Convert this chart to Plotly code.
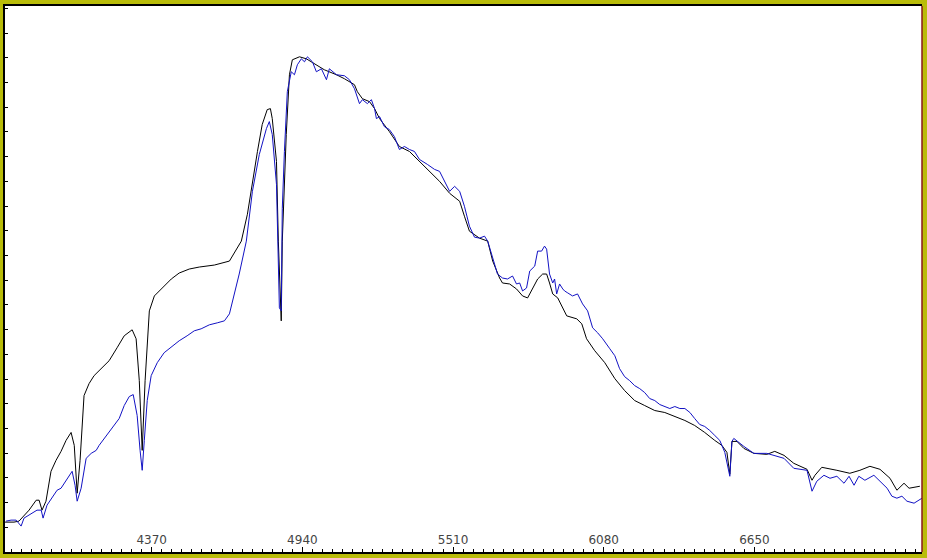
import plotly.graph_objects as go

# Wavelength (Angstrom) and relative flux
black_wl = [3815, 3849, 3868, 3887, 3906, 3933, 3944, 3955, 3970, 3989, 4008, 4027, 4046, 4065, 4077,
            4088, 4099, 4114, 4133, 4152, 4179, 4209, 4239, 4266, 4296, 4311, 4323, 4334, 4345, 4361,
            4380, 4398, 4417, 4444, 4474, 4512, 4550, 4607, 4664, 4709, 4732, 4751, 4770, 4788, 4807,
            4819, 4826, 4842, 4849, 4860, 4864, 4879, 4891, 4902, 4929, 4955, 4985, 5023, 5069, 5099,
            5137, 5148, 5167, 5194, 5213, 5232, 5269, 5307, 5345, 5383, 5421, 5459, 5497, 5535, 5553,
            5572, 5610, 5641, 5660, 5686, 5697, 5724, 5750, 5773, 5792, 5811, 5830, 5849, 5864, 5875,
            5887, 5906, 5921, 5940, 5978, 5997, 6015, 6046, 6084, 6122, 6159, 6197, 6235, 6273, 6311,
            6349, 6387, 6424, 6462, 6500, 6527, 6546, 6557, 6565, 6584, 6610, 6648, 6697, 6727, 6762,
            6799, 6849, 6868, 6879, 6905, 6962, 7011, 7049, 7087, 7125, 7163, 7189, 7216, 7235, 7276]
black_flux = [30, 30, 31, 36, 42, 52, 52, 42, 51, 81, 92, 101, 112, 120, 107,
              59, 92, 157, 169, 177, 184, 192, 205, 217, 223, 214, 172, 102, 172, 242,
              257, 262, 267, 274, 280, 284, 286, 288, 292, 312, 339, 372, 402, 429, 444,
              445, 435, 392, 312, 232, 312, 419, 479, 494, 497, 495, 490, 484, 479, 475,
              469, 462, 455, 452, 445, 435, 422, 407, 402, 392, 382, 372, 360, 352, 337,
              322, 315, 312, 292, 275, 270, 269, 264, 257, 255, 264, 274, 279, 279, 270,
              259, 255, 247, 237, 234, 229, 214, 202, 190, 174, 162, 152, 147, 142, 140,
              136, 132, 127, 120, 112, 107, 100, 78, 111, 111, 104, 99, 98, 101, 97,
              89, 83, 72, 77, 85, 82, 79, 82, 86, 83, 74, 62, 69, 64, 66]

blue_wl = [3819, 3838, 3857, 3876, 3887, 3906, 3936, 3952, 3959, 3974, 3993, 4012, 4027, 4046, 4058,
           4069, 4080, 4088, 4103, 4122, 4141, 4160, 4171, 4190, 4209, 4228, 4247, 4266, 4285, 4300,
           4315, 4326, 4334, 4342, 4353, 4368, 4391, 4417, 4444, 4474, 4504, 4531, 4557, 4588, 4618,
           4645, 4664, 4701, 4728, 4751, 4777, 4804, 4815, 4826, 4842, 4849, 4853, 4860, 4864, 4872,
           4883, 4898, 4910, 4921, 4936, 4948, 4959, 4978, 4993, 5012, 5031, 5042, 5069, 5099, 5118,
           5137, 5156, 5167, 5186, 5201, 5213, 5220, 5232, 5250, 5269, 5288, 5307, 5326, 5345, 5364,
           5383, 5413, 5440, 5459, 5478, 5497, 5516, 5535, 5553, 5572, 5591, 5610, 5629, 5641, 5667,
           5678, 5697, 5716, 5735, 5750, 5762, 5773, 5788, 5800, 5819, 5830, 5845, 5856, 5864, 5875,
           5887, 5894, 5902, 5913, 5925, 5932, 5944, 5962, 5981, 6000, 6019, 6038, 6057, 6076, 6103,
           6122, 6140, 6159, 6178, 6197, 6216, 6235, 6254, 6273, 6292, 6311, 6330, 6349, 6368, 6387,
           6406, 6424, 6443, 6462, 6481, 6500, 6519, 6538, 6546, 6557, 6565, 6572, 6610, 6648, 6697,
           6727, 6762, 6799, 6849, 6868, 6886, 6913, 6936, 6962, 6989, 7008, 7027, 7045, 7068, 7102,
           7125, 7152, 7170, 7189, 7208, 7227, 7254, 7273, 7284]
blue_flux = [31, 32, 32, 26, 34, 37, 42, 42, 34, 47, 54, 62, 64, 72, 76,
             81, 67, 51, 64, 94, 99, 102, 107, 114, 120, 127, 134, 147, 156, 158,
             137, 102, 82, 112, 152, 177, 190, 200, 206, 212, 217, 222, 224, 228, 230,
             232, 239, 279, 312, 362, 399, 425, 432, 419, 369, 295, 245, 242, 345, 402,
             462, 482, 479, 489, 495, 492, 497, 492, 482, 485, 474, 485, 479, 478, 474,
             465, 450, 454, 450, 454, 445, 435, 437, 427, 424, 417, 404, 407, 404, 402,
             394, 389, 384, 382, 372, 362, 367, 362, 347, 327, 316, 315, 317, 312, 289,
             279, 275, 274, 277, 269, 270, 262, 265, 282, 287, 302, 302, 307, 304, 279,
             270, 274, 259, 269, 264, 262, 260, 257, 259, 249, 242, 225, 220, 214, 204,
             197, 184, 176, 172, 167, 164, 160, 154, 152, 148, 146, 144, 146, 144, 144,
             140, 134, 128, 126, 122, 117, 112, 100, 91, 76, 111, 114, 106, 99, 99,
             97, 94, 84, 82, 61, 71, 77, 74, 76, 69, 76, 67, 76, 72, 77,
             71, 64, 56, 54, 56, 51, 49, 52, 54]

x_ticks = [4370, 4940, 5510, 6080, 6650]

fig = go.Figure()
fig.add_trace(go.Scatter(x=black_wl, y=black_flux, mode="lines",
                         line=dict(color="#000000", width=1), showlegend=False))
fig.add_trace(go.Scatter(x=blue_wl, y=blue_flux, mode="lines",
                         line=dict(color="#1212c4", width=1), showlegend=False))

fig.update_layout(
    width=927, height=558,
    margin=dict(l=5, r=5, t=4, b=6),
    paper_bgcolor="#b9bc0a",
    plot_bgcolor="#ffffff",
    font=dict(family="DejaVu Sans, Verdana, sans-serif", size=12, color="#222222"),
    xaxis=dict(range=[3815, 7284], tickvals=x_ticks, ticktext=[str(v) for v in x_ticks],
               ticks="inside", ticklen=5, tickcolor="#000", ticklabelposition="inside",
               showgrid=False, zeroline=False, showline=True, linecolor="#000", linewidth=2,
               mirror=True,
               minor=dict(tick0=4370, dtick=38, ticks="inside", ticklen=3, tickcolor="#000",
                          showgrid=False)),
    yaxis=dict(range=[0, 548], tick0=0, dtick=24.8, ticks="inside", ticklen=3, tickcolor="#000",
               showticklabels=False, showgrid=False, zeroline=False,
               showline=True, linecolor="#000", linewidth=2),
)
fig.add_shape(type="line", xref="paper", yref="paper", x0=1, x1=1, y0=0, y1=1,
              line=dict(color="#8b1a1a", width=1.5))

fig.write_html("out.html", config={"displayModeBar": False},
               post_script="document.body.style.margin='0';document.body.style.overflow='hidden';")
